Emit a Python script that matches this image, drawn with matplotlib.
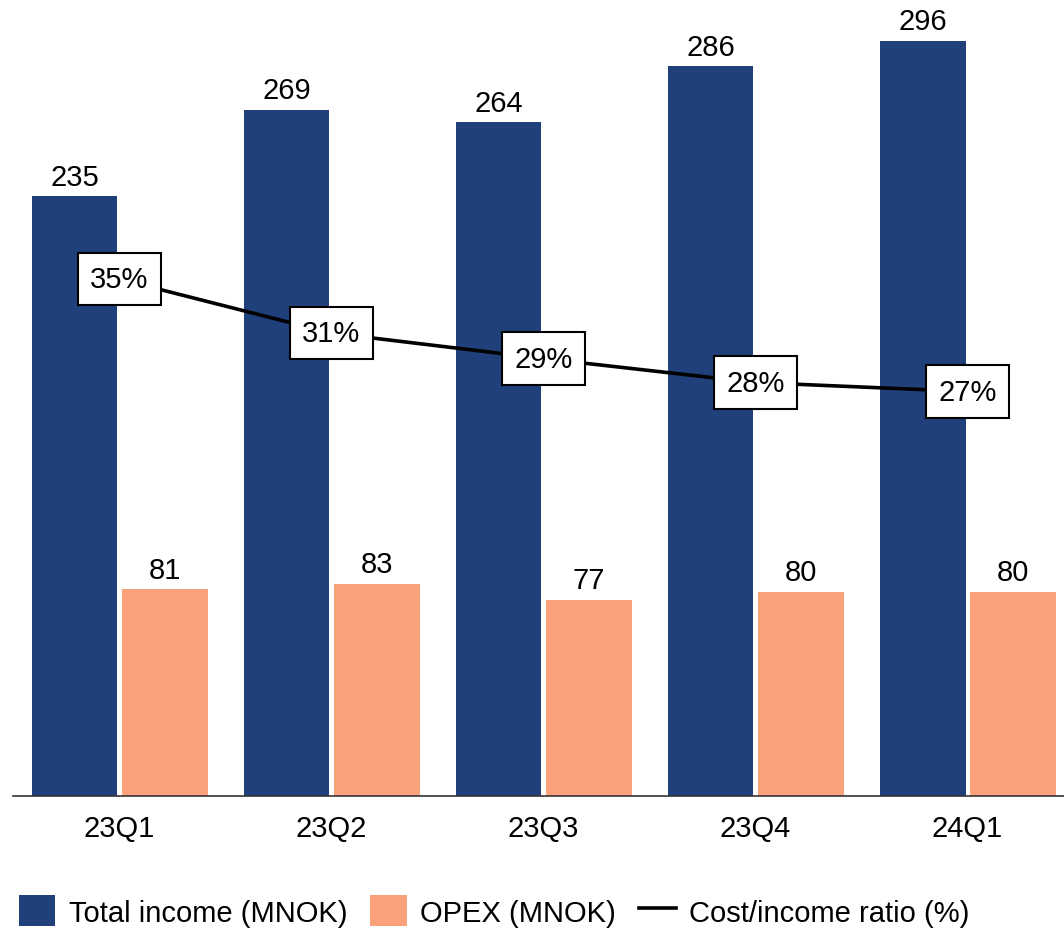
import matplotlib.pyplot as plt
import numpy as np

quarters = ['23Q1', '23Q2', '23Q3', '23Q4', '24Q1']
total_income = [235, 269, 264, 286, 296]
opex = [81, 83, 77, 80, 80]
cost_income = [34.5, 30.9, 29.2, 27.6, 27.0]
cost_income_labels = ['35%', '31%', '29%', '28%', '27%']

blue = '#1F407A'
orange = '#F9A17A'

plt.rcParams['font.family'] = ['Liberation Sans', 'DejaVu Sans']
fs = 21

fig = plt.figure(figsize=(10.64, 9.29), dpi=100)
ax = fig.add_axes([13 / 1064, 1 - 797 / 929, 1 - 13 / 1064, 797 / 929])

x = np.arange(len(quarters))
w = 0.405
b1 = ax.bar(x - 0.212, total_income, w, color=blue, label='Total income (MNOK)')
b2 = ax.bar(x + 0.215, opex, w, color=orange, label='OPEX (MNOK)')

# value labels above bars
for bars in (b1, b2):
    for bar in bars:
        h = bar.get_height()
        ax.annotate(str(h), (bar.get_x() + bar.get_width() / 2, h),
                    xytext=(0, 8.5), textcoords='offset points',
                    ha='center', va='baseline', fontsize=fs)

ax.set_xlim(-0.502, 4.455)
ax.set_ylim(0, 312.4)
ax.set_xticks(x)
ax.set_xticklabels(quarters, fontsize=fs)
ax.tick_params(axis='x', length=0, pad=13)
ax.set_yticks([])
for s in ['top', 'right', 'left']:
    ax.spines[s].set_visible(False)
ax.spines['bottom'].set_color('#333333')
ax.spines['bottom'].set_linewidth(1.2)

# cost/income ratio on a secondary axis
ax2 = ax.twinx()
ax2.set_ylim(0, 53.2)
ax2.set_yticks([])
for s in ['top', 'right', 'left', 'bottom']:
    ax2.spines[s].set_visible(False)
line, = ax2.plot(x, cost_income, color='black', lw=2.6, label='Cost/income ratio (%)')
for xi, yi, lab in zip(x, cost_income, cost_income_labels):
    ax2.text(xi, yi, lab, ha='center', va='center', fontsize=fs,
             bbox=dict(boxstyle='square,pad=0.42', fc='white', ec='black', lw=1.5))

fig.legend(handles=[b1, b2, line], loc='center', bbox_to_anchor=(494 / 1064, 1 - 912 / 929),
           ncol=3, frameon=False, fontsize=fs, handlelength=1.25, handleheight=1.25,
           handletextpad=0.45, columnspacing=0.8)

fig.savefig('out.png', dpi=100)
